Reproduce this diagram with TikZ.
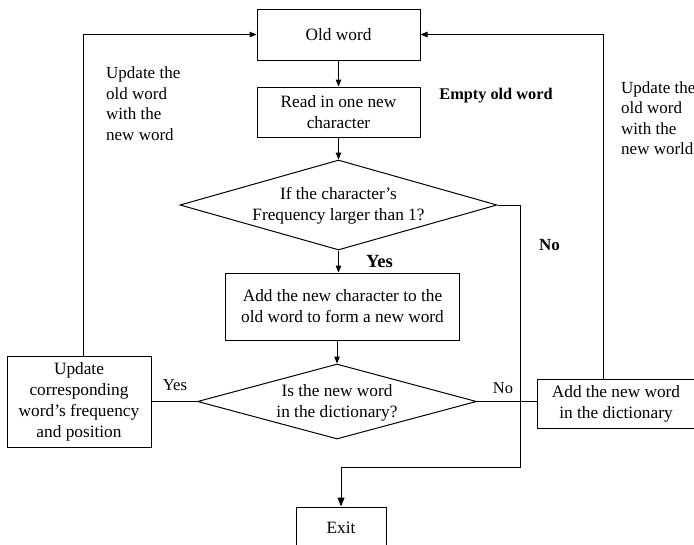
\documentclass[tikz,border=0pt]{standalone}
\usepackage{fontspec}
\setmainfont{Liberation Serif}
\usetikzlibrary{shapes.geometric,arrows.meta}
\begin{document}
\begin{tikzpicture}[x=1pt,y=-1pt,
  every node/.style={font=\fontsize{17.3}{21}\selectfont},
  box/.style={draw,line width=1pt,align=center,inner sep=0pt},
  dia/.style={draw,diamond,line width=1pt,inner sep=0pt},
  conn/.style={line width=1pt},
  arr/.style={conn,-{Triangle[length=7pt,width=5.5pt]}},
  lbl/.style={align=left,inner sep=0pt,font=\fontsize{17}{20.5}\selectfont},
  txt/.style={align=center,inner sep=0pt}]
\useasboundingbox (0,0) rectangle (694,544);
% nodes
\node[box,minimum width=163pt,minimum height=51pt] (old) at (338.5,34.5) {Old word};
\node[box,minimum width=163pt,minimum height=50pt] (read) at (338.5,112) {Read in one new\\character};
\node[dia,minimum width=317pt,minimum height=90pt] (d1) at (338.5,205) {};
\node[txt] (d1t) at (338.5,205.5) {If the character’s\\Frequency larger than 1?};
\node[box,minimum width=234pt,minimum height=67pt] (b3) at (342.5,306.5) {Add the new character to the\\old word to form a new word};
\node[dia,minimum width=279pt,minimum height=75pt] (d2) at (337,401.5) {};
\node[txt] (d2t) at (337,403) {Is the new word\\in the dictionary?};
\node[box,minimum width=144pt,minimum height=91pt] (upd) at (79,401.5) {Update\\corresponding\\word’s frequency\\and position};
\node[box,minimum width=158pt,minimum height=49pt] (add) at (616,403.5) {Add the new word\\in the dictionary};
\node[box,minimum width=90pt,minimum height=46pt] (exit) at (341,530) {};
\node[txt] (exitt) at (341,528) {Exit};
% labels
\node[lbl,anchor=west] (ll) at (106,103.5) {Update the\\old word\\with the\\new word};
\node[lbl,anchor=west] (rl) at (621,118) {Update the\\old word\\with the\\new world};
\node[txt,font=\fontsize{16.3}{20}\selectfont\bfseries] (empty) at (496,96) {Empty old word};
\node[txt,font=\fontsize{17}{20}\selectfont\bfseries] (no1) at (549.5,245) {No};
\node[txt,font=\fontsize{18.6}{22}\selectfont\bfseries] (yes1) at (379.5,261) {Yes};
\node[txt,font=\fontsize{16.7}{20}\selectfont] (yes2) at (175,385) {Yes};
\node[txt,font=\fontsize{16.4}{20}\selectfont] (no2) at (503,388) {No};
% coordinates
\coordinate (c2) at (520,467);
% connectors
\draw[arr] (old) -- (read);
\draw[arr] (read) -- (d1.north);
\draw[arr] (d1.south) -- (d1.south |- b3.north);
\draw[arr] (b3.south -| d2.north) -- (d2.north);
\draw[conn] (d2.west) -- (d2.west -| upd.east);
\draw[conn] (d2.east) -- (d2.east -| add.west);
\draw[arr] ([xshift=4pt]upd.north) |- (old.west);
\draw[arr] ([xshift=-13pt]add.north) |- (old.east);
\draw[conn,-{Triangle[length=9pt,width=7pt]}] (d1.east) -| (c2) -| (exit.north);
\end{tikzpicture}
\end{document}
